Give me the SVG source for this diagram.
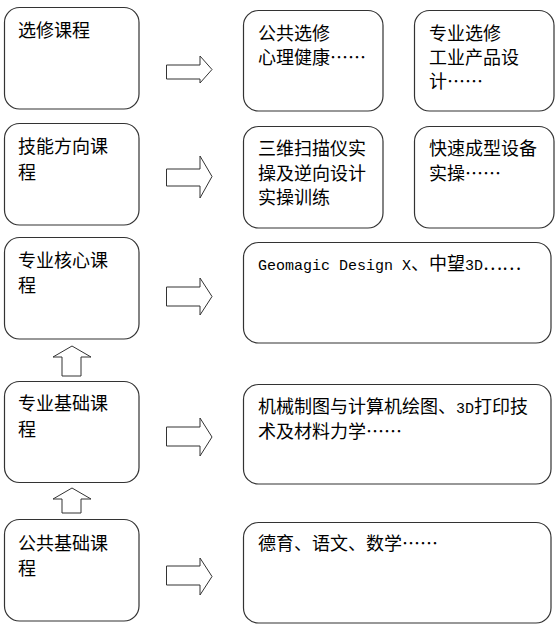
<svg xmlns="http://www.w3.org/2000/svg" width="555" height="629" viewBox="0 0 555 629">
<style>
.box{fill:#fff;stroke:#333;stroke-width:1.2}
.arr{fill:#fff;stroke:#333;stroke-width:1}
text{font-family:"Noto Sans CJK SC","Noto Sans",sans-serif;font-size:18px;fill:#000}
.lat{font-family:"Liberation Mono",monospace;font-size:15px}
</style>
<rect width="555" height="629" fill="#fff"/>
<g id="n-xuanxiu"><rect class="box" x="4.5" y="7.5" width="134.5" height="101.5" rx="15"/><text x="18" y="37">选修课程</text></g>
<g id="n-jineng"><rect class="box" x="4.5" y="123.5" width="134.5" height="101.5" rx="15"/><text x="18" y="153">技能方向课</text><text x="18" y="179">程</text></g>
<g id="n-hexin"><rect class="box" x="4.5" y="237.5" width="134.5" height="101.5" rx="15"/><text x="18" y="267">专业核心课</text><text x="18" y="292">程</text></g>
<g id="n-jichu"><rect class="box" x="4.5" y="381.5" width="134.5" height="101" rx="15"/><text x="18" y="410">专业基础课</text><text x="18" y="436">程</text></g>
<g id="n-gonggong"><rect class="box" x="4.5" y="519.5" width="134.5" height="101.5" rx="15"/><text x="18" y="550">公共基础课</text><text x="18" y="575">程</text></g>
<g id="n-ggxx"><rect class="box" x="243.5" y="10.5" width="139.5" height="100.5" rx="15"/><text x="258" y="40">公共选修</text><text x="258" y="64">心理健康……</text></g>
<g id="n-zyxx"><rect class="box" x="414.5" y="10.5" width="139.5" height="100.5" rx="15"/><text x="429" y="40">专业选修</text><text x="429" y="64">工业产品设</text><text x="429" y="88">计……</text></g>
<g id="n-sanwei"><rect class="box" x="243.5" y="126.5" width="139.5" height="101.5" rx="15"/><text x="258" y="155">三维扫描仪实</text><text x="258" y="180">操及逆向设计</text><text x="258" y="204">实操训练</text></g>
<g id="n-kuaisu"><rect class="box" x="414.5" y="126.5" width="139.5" height="101.5" rx="15"/><text x="429" y="155">快速成型设备</text><text x="429" y="180">实操……</text></g>
<g id="n-geomagic"><rect class="box" x="243.5" y="242.5" width="307.5" height="100.5" rx="15"/><text x="258" y="270"><tspan class="lat">Geomagic Design X</tspan>、中望<tspan class="lat">3D</tspan>……</text></g>
<g id="n-jixie"><rect class="box" x="243.5" y="384.5" width="307.5" height="99.5" rx="15"/><text x="258" y="413">机械制图与计算机绘图、<tspan class="lat">3D</tspan>打印技</text><text x="258" y="438">术及材料力学……</text></g>
<g id="n-deyu"><rect class="box" x="243.5" y="522.5" width="307.5" height="100.5" rx="15"/><text x="258" y="550">德育、语文、数学……</text></g>
<g id="connectors">
<path class="arr" d="M166.5,65 H200 V56 L212,69.5 L200,83 V79 H166.5 Z"/>
<path class="arr" d="M166.5,169 H200 V156 L212,176.5 L200,198 V186 H166.5 Z"/>
<path class="arr" d="M166.5,287 H200 V278 L212,296.5 L200,315 V306 H166.5 Z"/>
<path class="arr" d="M166.5,427 H200 V418 L212,437 L200,456 V446 H166.5 Z"/>
<path class="arr" d="M166.5,566 H200 V558 L212,576.5 L200,595 V585 H166.5 Z"/>
<path class="arr" d="M62,376 V357 H53 L72,346 L91,357 H81 V376 Z"/>
<path class="arr" d="M62,513 V499 H53 L72,488 L91,499 H81 V513 Z"/>
</g>
</svg>
